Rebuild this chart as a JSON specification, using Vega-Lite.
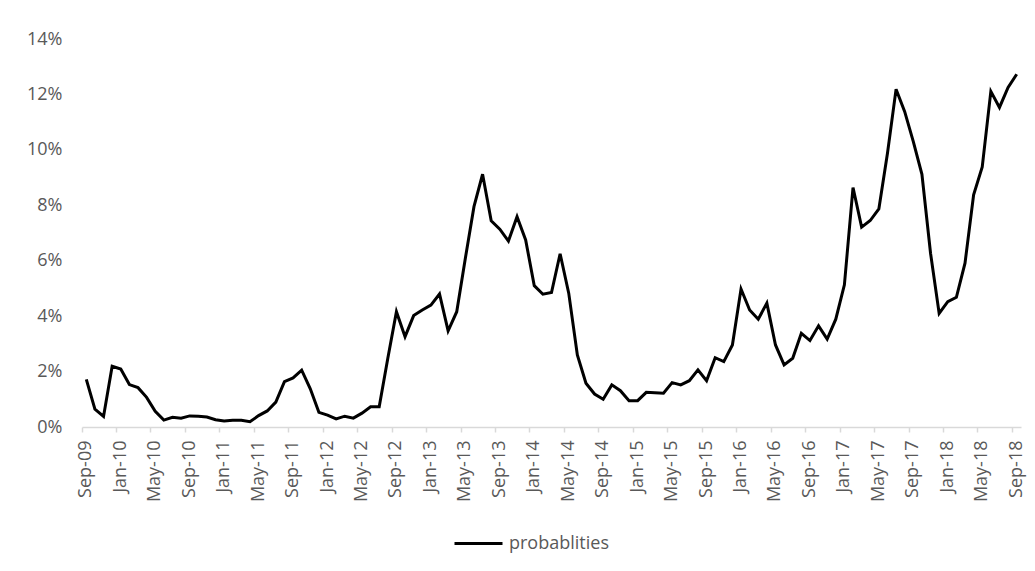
{
  "$schema": "https://vega.github.io/schema/vega-lite/v6.json",
  "width": 939,
  "height": 388,
  "autosize": {"type": "none"},
  "padding": {"left": 82, "top": 39, "right": 14, "bottom": 144},
  "background": "white",
  "config": {
    "view": {"stroke": null},
    "font": "Open Sans"
  },
  "data": {
    "values": [
      {"m": "Sep-09", "p": 0.0172, "s": "probablities"},
      {"m": "Oct-09", "p": 0.0064, "s": "probablities"},
      {"m": "Nov-09", "p": 0.0038, "s": "probablities"},
      {"m": "Dec-09", "p": 0.0219, "s": "probablities"},
      {"m": "Jan-10", "p": 0.0209, "s": "probablities"},
      {"m": "Feb-10", "p": 0.0153, "s": "probablities"},
      {"m": "Mar-10", "p": 0.0142, "s": "probablities"},
      {"m": "Apr-10", "p": 0.0107, "s": "probablities"},
      {"m": "May-10", "p": 0.0057, "s": "probablities"},
      {"m": "Jun-10", "p": 0.0025, "s": "probablities"},
      {"m": "Jul-10", "p": 0.0035, "s": "probablities"},
      {"m": "Aug-10", "p": 0.0032, "s": "probablities"},
      {"m": "Sep-10", "p": 0.0040, "s": "probablities"},
      {"m": "Oct-10", "p": 0.0039, "s": "probablities"},
      {"m": "Nov-10", "p": 0.0036, "s": "probablities"},
      {"m": "Dec-10", "p": 0.0026, "s": "probablities"},
      {"m": "Jan-11", "p": 0.0022, "s": "probablities"},
      {"m": "Feb-11", "p": 0.0024, "s": "probablities"},
      {"m": "Mar-11", "p": 0.0024, "s": "probablities"},
      {"m": "Apr-11", "p": 0.0019, "s": "probablities"},
      {"m": "May-11", "p": 0.0041, "s": "probablities"},
      {"m": "Jun-11", "p": 0.0058, "s": "probablities"},
      {"m": "Jul-11", "p": 0.0090, "s": "probablities"},
      {"m": "Aug-11", "p": 0.0164, "s": "probablities"},
      {"m": "Sep-11", "p": 0.0177, "s": "probablities"},
      {"m": "Oct-11", "p": 0.0205, "s": "probablities"},
      {"m": "Nov-11", "p": 0.0138, "s": "probablities"},
      {"m": "Dec-11", "p": 0.0053, "s": "probablities"},
      {"m": "Jan-12", "p": 0.0043, "s": "probablities"},
      {"m": "Feb-12", "p": 0.0029, "s": "probablities"},
      {"m": "Mar-12", "p": 0.0039, "s": "probablities"},
      {"m": "Apr-12", "p": 0.0032, "s": "probablities"},
      {"m": "May-12", "p": 0.0050, "s": "probablities"},
      {"m": "Jun-12", "p": 0.0073, "s": "probablities"},
      {"m": "Jul-12", "p": 0.0073, "s": "probablities"},
      {"m": "Aug-12", "p": 0.0248, "s": "probablities"},
      {"m": "Sep-12", "p": 0.0416, "s": "probablities"},
      {"m": "Oct-12", "p": 0.0326, "s": "probablities"},
      {"m": "Nov-12", "p": 0.0402, "s": "probablities"},
      {"m": "Dec-12", "p": 0.0422, "s": "probablities"},
      {"m": "Jan-13", "p": 0.0440, "s": "probablities"},
      {"m": "Feb-13", "p": 0.0480, "s": "probablities"},
      {"m": "Mar-13", "p": 0.0347, "s": "probablities"},
      {"m": "Apr-13", "p": 0.0416, "s": "probablities"},
      {"m": "May-13", "p": 0.0609, "s": "probablities"},
      {"m": "Jun-13", "p": 0.0795, "s": "probablities"},
      {"m": "Jul-13", "p": 0.0912, "s": "probablities"},
      {"m": "Aug-13", "p": 0.0744, "s": "probablities"},
      {"m": "Sep-13", "p": 0.0714, "s": "probablities"},
      {"m": "Oct-13", "p": 0.0671, "s": "probablities"},
      {"m": "Nov-13", "p": 0.0759, "s": "probablities"},
      {"m": "Dec-13", "p": 0.0675, "s": "probablities"},
      {"m": "Jan-14", "p": 0.0510, "s": "probablities"},
      {"m": "Feb-14", "p": 0.0479, "s": "probablities"},
      {"m": "Mar-14", "p": 0.0485, "s": "probablities"},
      {"m": "Apr-14", "p": 0.0625, "s": "probablities"},
      {"m": "May-14", "p": 0.0483, "s": "probablities"},
      {"m": "Jun-14", "p": 0.0260, "s": "probablities"},
      {"m": "Jul-14", "p": 0.0158, "s": "probablities"},
      {"m": "Aug-14", "p": 0.0119, "s": "probablities"},
      {"m": "Sep-14", "p": 0.0100, "s": "probablities"},
      {"m": "Oct-14", "p": 0.0152, "s": "probablities"},
      {"m": "Nov-14", "p": 0.0131, "s": "probablities"},
      {"m": "Dec-14", "p": 0.0095, "s": "probablities"},
      {"m": "Jan-15", "p": 0.0095, "s": "probablities"},
      {"m": "Feb-15", "p": 0.0125, "s": "probablities"},
      {"m": "Mar-15", "p": 0.0124, "s": "probablities"},
      {"m": "Apr-15", "p": 0.0122, "s": "probablities"},
      {"m": "May-15", "p": 0.0160, "s": "probablities"},
      {"m": "Jun-15", "p": 0.0152, "s": "probablities"},
      {"m": "Jul-15", "p": 0.0167, "s": "probablities"},
      {"m": "Aug-15", "p": 0.0206, "s": "probablities"},
      {"m": "Sep-15", "p": 0.0167, "s": "probablities"},
      {"m": "Oct-15", "p": 0.0250, "s": "probablities"},
      {"m": "Nov-15", "p": 0.0236, "s": "probablities"},
      {"m": "Dec-15", "p": 0.0296, "s": "probablities"},
      {"m": "Jan-16", "p": 0.0498, "s": "probablities"},
      {"m": "Feb-16", "p": 0.0422, "s": "probablities"},
      {"m": "Mar-16", "p": 0.0389, "s": "probablities"},
      {"m": "Apr-16", "p": 0.0447, "s": "probablities"},
      {"m": "May-16", "p": 0.0296, "s": "probablities"},
      {"m": "Jun-16", "p": 0.0224, "s": "probablities"},
      {"m": "Jul-16", "p": 0.0248, "s": "probablities"},
      {"m": "Aug-16", "p": 0.0338, "s": "probablities"},
      {"m": "Sep-16", "p": 0.0312, "s": "probablities"},
      {"m": "Oct-16", "p": 0.0365, "s": "probablities"},
      {"m": "Nov-16", "p": 0.0317, "s": "probablities"},
      {"m": "Dec-16", "p": 0.0389, "s": "probablities"},
      {"m": "Jan-17", "p": 0.0513, "s": "probablities"},
      {"m": "Feb-17", "p": 0.0864, "s": "probablities"},
      {"m": "Mar-17", "p": 0.0721, "s": "probablities"},
      {"m": "Apr-17", "p": 0.0745, "s": "probablities"},
      {"m": "May-17", "p": 0.0787, "s": "probablities"},
      {"m": "Jun-17", "p": 0.0988, "s": "probablities"},
      {"m": "Jul-17", "p": 0.1219, "s": "probablities"},
      {"m": "Aug-17", "p": 0.1138, "s": "probablities"},
      {"m": "Sep-17", "p": 0.1030, "s": "probablities"},
      {"m": "Oct-17", "p": 0.0912, "s": "probablities"},
      {"m": "Nov-17", "p": 0.0627, "s": "probablities"},
      {"m": "Dec-17", "p": 0.0410, "s": "probablities"},
      {"m": "Jan-18", "p": 0.0452, "s": "probablities"},
      {"m": "Feb-18", "p": 0.0468, "s": "probablities"},
      {"m": "Mar-18", "p": 0.0591, "s": "probablities"},
      {"m": "Apr-18", "p": 0.0838, "s": "probablities"},
      {"m": "May-18", "p": 0.0938, "s": "probablities"},
      {"m": "Jun-18", "p": 0.1211, "s": "probablities"},
      {"m": "Jul-18", "p": 0.1153, "s": "probablities"},
      {"m": "Aug-18", "p": 0.1225, "s": "probablities"},
      {"m": "Sep-18", "p": 0.1273, "s": "probablities"}
    ]
  },
  "mark": {"type": "line", "strokeWidth": 3, "strokeJoin": "miter", "strokeCap": "butt"},
  "encoding": {
    "x": {
      "field": "m",
      "type": "ordinal",
      "sort": null,
      "bandPosition": 0.5,
      "scale": {"type": "band", "paddingInner": 0, "paddingOuter": 0},
      "axis": {
        "title": null,
        "values": ["Sep-09","Jan-10","May-10","Sep-10","Jan-11","May-11","Sep-11","Jan-12","May-12","Sep-12","Jan-13","May-13","Sep-13","Jan-14","May-14","Sep-14","Jan-15","May-15","Sep-15","Jan-16","May-16","Sep-16","Jan-17","May-17","Sep-17","Jan-18","May-18","Sep-18"],
        "bandPosition": 0,
        "labelAngle": -90,
        "labelFontSize": 18,
        "labelColor": "#595959",
        "labelPadding": 8,
        "tickSize": 5,
        "tickColor": "#d9d9d9",
        "domainColor": "#d9d9d9",
        "domainWidth": 1.5,
        "tickWidth": 1.5,
        "grid": false
      }
    },
    "y": {
      "field": "p",
      "type": "quantitative",
      "scale": {"domain": [0, 0.14], "nice": false},
      "axis": {
        "title": null,
        "values": [0, 0.02, 0.04, 0.06, 0.08, 0.1, 0.12, 0.14],
        "format": ".0%",
        "labelFontSize": 18,
        "labelColor": "#595959",
        "labelPadding": 20,
        "ticks": false,
        "domain": false,
        "grid": false
      }
    },
    "color": {
      "field": "s",
      "type": "nominal",
      "scale": {"range": ["#000000"]},
      "legend": {
        "title": null,
        "orient": "none",
        "legendX": 371,
        "legendY": 479,
        "symbolType": "stroke",
        "symbolSize": 2304,
        "symbolStrokeWidth": 3,
        "labelFontSize": 18,
        "labelColor": "#595959",
        "labelOffset": 5
      }
    }
  }
}
